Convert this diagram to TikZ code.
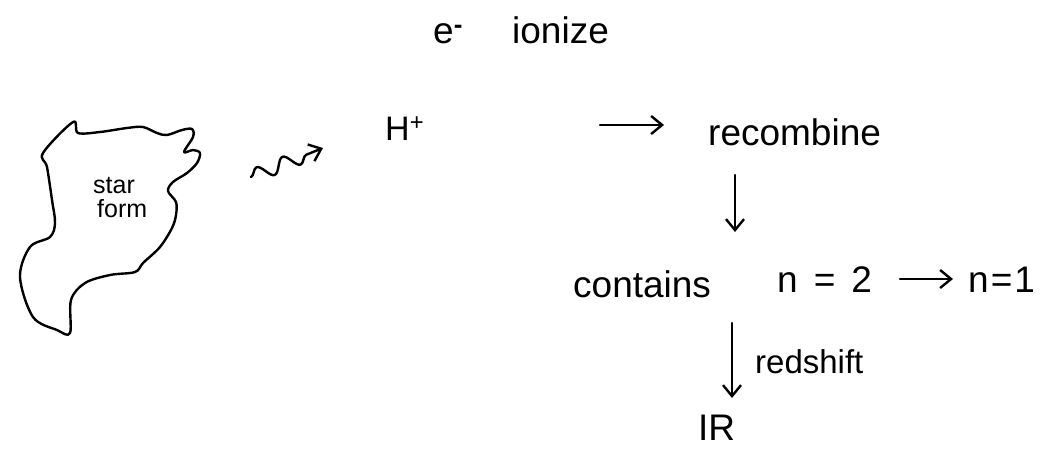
\documentclass[tikz,border=0pt]{standalone}
\usepackage{fontspec}
\setmainfont{Liberation Sans}
\usetikzlibrary{arrows.meta,decorations.pathmorphing}
\begin{document}
\begin{tikzpicture}[x=1pt,y=-1pt,
  hand/.style={inner sep=0pt,anchor=base west},
  big/.style={hand,font=\fontsize{37}{40}\selectfont},
  small/.style={hand,font=\fontsize{25}{26}\selectfont},
  conn/.style={line width=2.4pt,line cap=round,line join=round,-{Straight Barb[length=11pt,width=18pt,line width=2.4pt]}},
  outline/.style={line width=2.4pt,line join=round}]
\useasboundingbox (0,0) rectangle (1044,451);
% star-forming cloud
\draw[outline] plot[smooth cycle,tension=0.55] coordinates {
 (43,153) (73,122) (78,133) (100,132) (127,128) (143,127) (157,133) (167,135)
 (182,130) (192,129) (193,137) (184,152) (193,150) (200,153) (197,163) (187,173)
 (173,182) (168,191) (176,202) (176,215) (172,228) (160,247) (143,263) (135,272)
 (110,275) (85,283) (71,300) (70,333) (57,330) (33,317) (20,277) (30,247)
 (50,237) (55,223) (52,200) (47,167)};
\node[small] (star) at (93,193) {star};
\node[small] (form) at (97,217) {form};
% top label
\node[big] (e) at (433,43) {e\textsuperscript{\textbf{-}}};
\node[big] (ionize) at (512,43) {ionize};
% H+
\node[big,font=\fontsize{34}{36}\selectfont] (H) at (385,140) {H\textsuperscript{+}};
% wavy photon arrow
\coordinate (wa) at (251,177);
\coordinate (wb) at (323,148);
\draw[conn,decorate,decoration={snake,segment length=28pt,amplitude=7pt,post length=16pt}] (wa) -- (wb);
% recombine
\node[big] (recombine) at (708,145) {recombine};
\coordinate (ra) at (600,125);
\coordinate (rb) at (664,125);
\draw[conn] (ra) -- (rb);
\coordinate (da) at (735,175);
\coordinate (db) at (735,232);
\draw[conn] (da) -- (db);
% contains line
\node[big] (contains) at (573,297) {contains};
\node[big] (n2) at (777,292) {n\kern16pt=\kern16pt2};
\node[big] (n1) at (968,292) {n\kern2pt=\kern2pt1};
\coordinate (na) at (900,279);
\coordinate (nb) at (953,279);
\draw[conn] (na) -- (nb);
% redshift
\coordinate (sa) at (732,323);
\coordinate (sb) at (732,398);
\draw[conn] (sa) -- (sb);
\node[hand,font=\fontsize{33}{36}\selectfont] (redshift) at (755,373) {redshift};
\node[big] (IR) at (698,440) {IR};
\end{tikzpicture}
\end{document}
